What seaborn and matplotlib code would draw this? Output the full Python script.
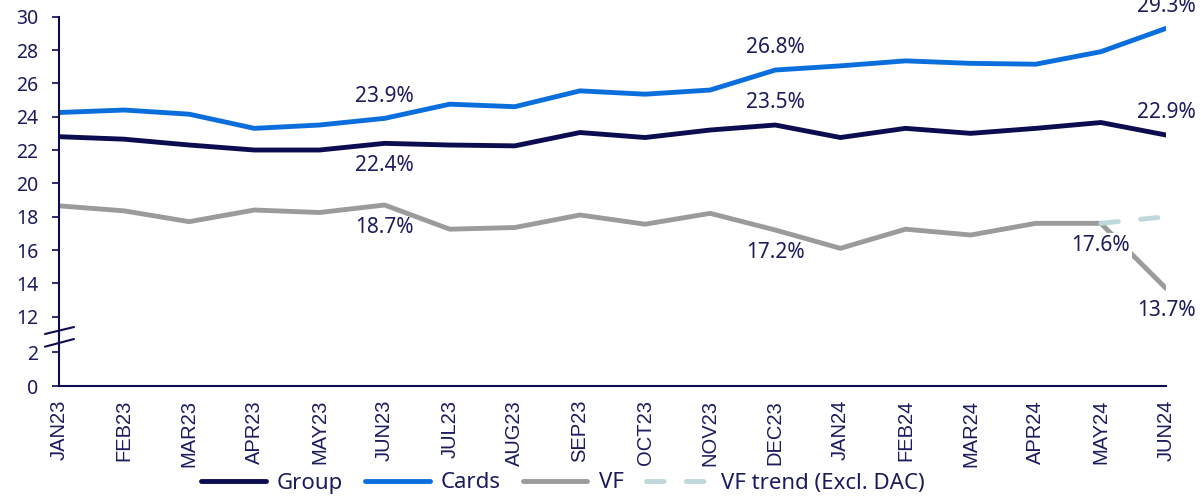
import matplotlib
matplotlib.use("Agg")
import matplotlib.pyplot as plt
import numpy as np
import pandas as pd
import seaborn as sns
from matplotlib.lines import Line2D

# --- data ---
months = ["JAN23", "FEB23", "MAR23", "APR23", "MAY23", "JUN23", "JUL23", "AUG23", "SEP23",
          "OCT23", "NOV23", "DEC23", "JAN24", "FEB24", "MAR24", "APR24", "MAY24", "JUN24"]
group = [22.8, 22.65, 22.3, 22.0, 22.0, 22.4, 22.3, 22.25, 23.05,
         22.75, 23.2, 23.5, 22.75, 23.3, 23.0, 23.3, 23.65, 22.9]
cards = [24.25, 24.4, 24.15, 23.3, 23.5, 23.9, 24.75, 24.6, 25.55,
         25.35, 25.6, 26.8, 27.05, 27.35, 27.2, 27.15, 27.9, 29.3]
vf = [18.65, 18.35, 17.7, 18.4, 18.25, 18.7, 17.25, 17.35, 18.1,
      17.55, 18.2, 17.2, 16.1, 17.25, 16.9, 17.6, 17.6, 13.7]
vf_trend_months = ["MAY24", "JUN24"]
vf_trend = [17.6, 18.0]

# ラベルを付ける点: (系列, 月)
label_points = [("Cards", "JUN23"), ("Group", "JUN23"), ("VF", "JUN23"),
                ("Cards", "DEC23"), ("Group", "DEC23"), ("VF", "DEC23"),
                ("Cards", "JUN24"), ("Group", "JUN24"), ("VF", "MAY24"), ("VF", "JUN24")]
label_above = [True, False, False, True, True, False, True, True, False, False]

# --- style ---
NAVY = "#0c0c50"
TEXT = "#1b1b5e"
colors = {"Group": "#0c0c50", "Cards": "#0a6fdc", "VF": "#9b9b9b",
          "VF trend (Excl. DAC)": "#bfd8dc"}

sns.set_theme(style="white")
plt.rcParams["font.family"] = ["Noto Sans", "DejaVu Sans"]

x = np.arange(len(months))
series = {"Group": group, "Cards": cards, "VF": vf}

fig = plt.figure(figsize=(12.01, 4.97), dpi=100)
left, right = 59 / 1201, 1166 / 1201
ax = fig.add_axes([left, 1 - 335 / 497, right - left, (335 - 16.7) / 497])
ax_low = fig.add_axes([left, 1 - 386 / 497, right - left, (386 - 335) / 497])

for name, vals in series.items():
    sns.lineplot(x=x, y=vals, ax=ax, color=colors[name], lw=3.5, label=name,
                 solid_capstyle="round")
tx = [months.index(m) for m in vf_trend_months]
sns.lineplot(x=tx, y=vf_trend, ax=ax, color=colors["VF trend (Excl. DAC)"], lw=3.5,
             label="VF trend (Excl. DAC)", linestyle=(0, (3.6, 4.6)),
             dash_capstyle="round")

# 数値ラベル
for (name, m), above in zip(label_points, label_above):
    i = months.index(m)
    v = series[name][i]
    kw = {}
    if name == "VF" and m == "MAY24":
        kw["bbox"] = dict(boxstyle="square,pad=0.1", fc="white", ec="none")
    ax.annotate(f"{v:.1f}%", (i, v), xytext=(0, 16 if above else -16),
                textcoords="offset points", ha="center", va="center",
                fontsize=15, color=TEXT, annotation_clip=False, zorder=5, **kw)

# 上側の軸 (12-30)
ax.set_xlim(0, len(months) - 1)
ax.set_ylim(10.9, 30)
ax.set_yticks(range(12, 31, 2))
ax.set_xticks([])
ax.legend_.remove()
for s in ("top", "right", "bottom"):
    ax.spines[s].set_visible(False)

# 下側の軸 (0-2)
ax_low.set_xlim(0, len(months) - 1)
ax_low.set_ylim(0, 3)
ax_low.set_yticks([0, 2])
ax_low.set_xticks(x)
ax_low.set_xticklabels(months, rotation=90, family="Liberation Sans", fontsize=14.5,
                       color=TEXT)
for s in ("top", "right"):
    ax_low.spines[s].set_visible(False)
ax_low.patch.set_alpha(0)

for a in (ax, ax_low):
    a.spines["left"].set_color(NAVY)
    a.spines["left"].set_linewidth(1.5)
    a.tick_params(axis="y", which="both", left=True, length=5, width=1.2, color=NAVY,
                  labelsize=14, labelcolor=TEXT, pad=10)
ax_low.spines["bottom"].set_color(NAVY)
ax_low.spines["bottom"].set_linewidth(1.5)
ax_low.tick_params(axis="x", bottom=False, pad=4)

# 軸の省略記号
for y0, y1 in ((334, 327), (346.7, 339)):
    fig.add_artist(Line2D([45 / 1201, 74 / 1201], [1 - y0 / 497, 1 - y1 / 497],
                          color=NAVY, lw=1.5, transform=fig.transFigure))

# 凡例
handles, labels = ax.get_legend_handles_labels()
leg = fig.legend(handles, labels, loc="center", bbox_to_anchor=(563 / 1201, 1 - 483 / 497),
                 ncol=4, frameon=False, fontsize=16, handlelength=2.9,
                 handletextpad=0.5, columnspacing=1.0, labelcolor=TEXT)

fig.savefig("out.png", dpi=100)
